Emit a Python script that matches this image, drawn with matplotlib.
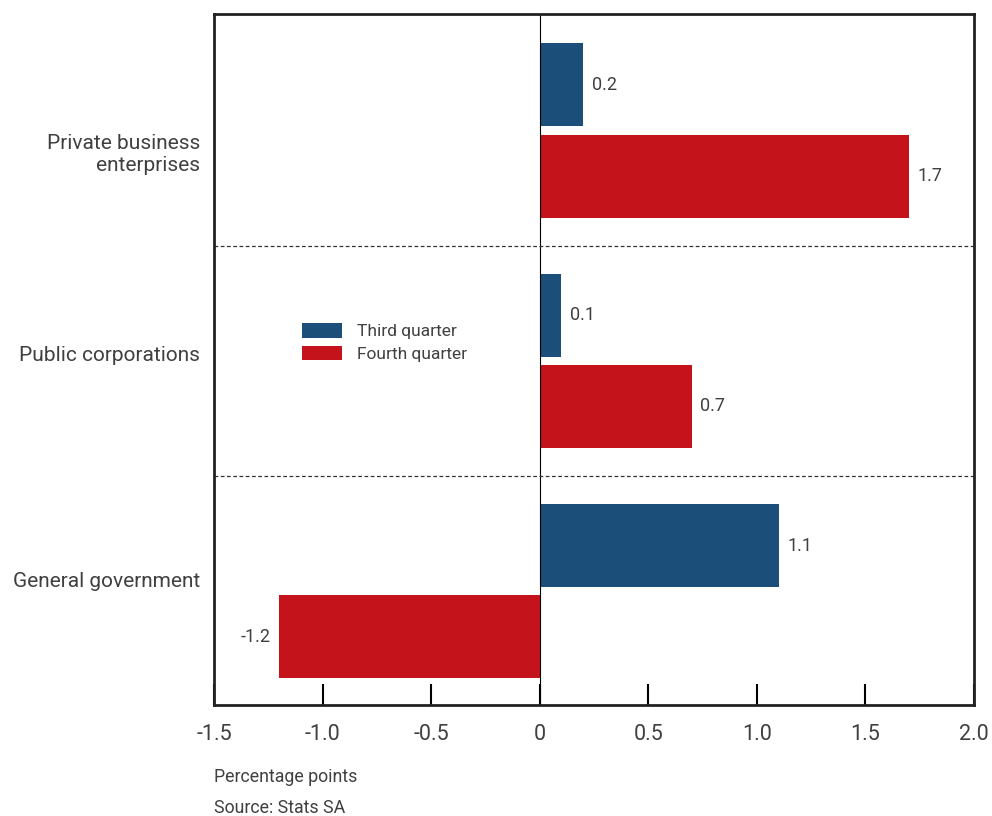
import matplotlib.pyplot as plt
import numpy as np

plt.rcParams['font.family'] = ['Roboto', 'DejaVu Sans']

sectors = ["Private business\nenterprises", "Public corporations", "General government"]
sector_label_pos = [0.09, 0.97, 1.95]
third_q = [0.2, 0.1, 1.1]
fourth_q = [1.7, 0.7, -1.2]
series_names = ["Third quarter", "Fourth quarter"]
xticks = [-1.5, -1.0, -0.5, 0, 0.5, 1.0, 1.5, 2.0]
xtick_labels = ["-1.5", "-1.0", "-0.5", "0", "0.5", "1.0", "1.5", "2.0"]

blue = "#1b4f7a"
red = "#c4131b"
txt = "#404040"

fig = plt.figure(figsize=(9.92, 8.16), dpi=100)
ax = fig.add_axes([214/992, 1 - 705/816, 760/992, 691/816])

y = np.arange(len(sectors))
off = 0.198
h = 0.36
b1 = ax.barh(y - off, third_q, height=h, color=blue, label=series_names[0])
b2 = ax.barh(y + off, fourth_q, height=h, color=red, label=series_names[1])

# value labels next to the bar ends
for bars, vals in ((b1, third_q), (b2, fourth_q)):
    for bar, v in zip(bars, vals):
        yc = bar.get_y() + bar.get_height() / 2
        if v >= 0:
            ax.text(v + 0.04, yc, f"{v:.1f}", va="center", ha="left",
                    fontsize=13, color=txt)
        else:
            ax.text(v - 0.04, yc, f"{v:.1f}", va="center", ha="right",
                    fontsize=13, color=txt)

ax.axvline(0, color="black", lw=0.8)
for s in (0.5, 1.5):
    ax.axhline(s, color="#333333", lw=0.9, ls=(0, (3, 2)))

ax.set_xlim(-1.5, 2.0)
ax.set_ylim(2.5 - 0.006, -0.5 - 0.006)
ax.set_xticks(xticks)
ax.set_xticklabels(xtick_labels)
ax.set_yticks(sector_label_pos)
ax.set_yticklabels(sectors, ha="right", multialignment="right")
ax.tick_params(axis="x", direction="in", length=15, width=1.5, pad=-22 + 36,
               labelsize=15.5, labelcolor=txt)
ax.tick_params(axis="y", length=0, pad=10, labelsize=15, labelcolor=txt)
for sp in ax.spines.values():
    sp.set_linewidth(2)
    sp.set_color("#222222")

leg = ax.legend(loc="upper left", bbox_to_anchor=(0.095, 0.575), frameon=False,
                fontsize=12.5, handlelength=2.3, handleheight=0.9,
                handletextpad=0.9, labelspacing=0.35)
for t in leg.get_texts():
    t.set_color(txt)

fig.text(214/992, 1 - 777/816, "Percentage points", fontsize=12.8, color=txt,
         va="center")
fig.text(214/992, 1 - 808/816, "Source: Stats SA", fontsize=12.8, color=txt,
         va="center")

fig.savefig("out.png", dpi=100)
